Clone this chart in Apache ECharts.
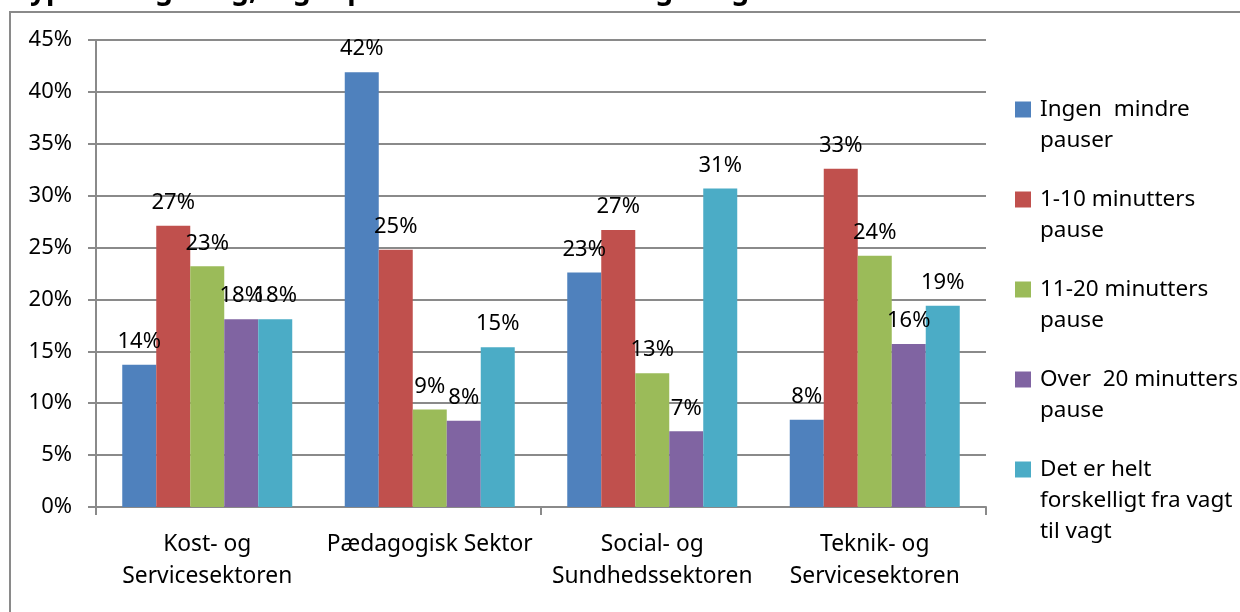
<!DOCTYPE html>
<html>
<head>
<meta charset="utf-8">
<script src="https://cdn.jsdelivr.net/npm/echarts@6/dist/echarts.min.js"></script>
<style>html,body{margin:0;padding:0;background:#fff;}#c{width:1240px;height:612px;}</style>
</head>
<body>
<div id="c"></div>
<script>
const categories = ['Kost- og\nServicesektoren', 'Pædagogisk Sektor', 'Social- og\nSundhedssektoren', 'Teknik- og\nServicesektoren'];
const seriesNames = ['Ingen  mindre\npauser', '1-10 minutters\npause', '11-20 minutters\npause', 'Over  20 minutters\npause', 'Det er helt\nforskelligt fra vagt\ntil vagt'];
const ingenMindre = [13.7, 41.9, 22.6, 8.4];
const min1til10 = [27.1, 24.8, 26.7, 32.6];
const min11til20 = [23.2, 9.4, 12.9, 24.2];
const over20 = [18.1, 8.3, 7.3, 15.7];
const forskelligt = [18.1, 15.4, 30.7, 19.4];
const yTicks = [0, 5, 10, 15, 20, 25, 30, 35, 40, 45];
const titleText = 'r type af vagt/dag, tager pauser i løbet af en vagt/dag';

const colors = ['#4F81BD', '#C0504D', '#9BBB59', '#8064A2', '#4BACC6'];
const values = [ingenMindre, min1til10, min11til20, over20, forskelligt];
const FONT = 'Noto Sans';

const chart = echarts.init(document.getElementById('c'));
const series = seriesNames.map((n, i) => ({
  name: n,
  type: 'bar',
  data: values[i],
  barGap: '0%',
  barCategoryGap: '23.6%',
  itemStyle: { color: colors[i] },
  label: {
    show: true, position: 'top', distance: 12,
    formatter: p => Math.round(p.value) + '%',
    fontFamily: FONT, fontSize: 22, color: '#000', lineHeight: 22
  }
}));

// pad legend labels so that the first text line sits level with the colour square
function legendText(name) {
  const lines = name.split('\n');
  const out = [];
  for (let k = 0; k < lines.length - 1; k++) out.push(' ');
  lines.forEach(l => out.push(l));
  while (out.length < 5) { out.unshift(' '); out.push(' '); }
  return out.join('\n');
}

chart.setOption({
  animation: false,
  color: colors,
  graphic: [
    { type: 'rect', shape: { x: 10, y: 12, width: 1300, height: 700 }, style: { fill: 'none', stroke: '#8a8a8a', lineWidth: 2 }, z: -1 },
    { type: 'text', left: -2, top: -23, style: { text: titleText, font: 'bold 28px "Noto Sans"', fill: '#000' } }
  ],
  grid: { left: 96, right: 254, top: 40, bottom: 105, containLabel: false },
  legend: {
    orient: 'vertical', left: 1010, top: 27, padding: 5,
    itemWidth: 16, itemHeight: 16, itemGap: -65,
    icon: 'rect',
    selectedMode: false,
    formatter: legendText,
    textStyle: { fontFamily: FONT, fontSize: 22.5, color: '#000', lineHeight: 31, padding: [0, 0, 0, 4] },
    data: seriesNames
  },
  xAxis: {
    type: 'category', data: categories,
    axisLine: { lineStyle: { color: '#8a8a8a', width: 2 } },
    axisTick: { show: true, length: 8, interval: (i) => i % 2 === 0, lineStyle: { color: '#8a8a8a', width: 2 } },
    axisLabel: { interval: 0, margin: 22, fontFamily: FONT, fontSize: 22.8, color: '#000', lineHeight: 32 }
  },
  yAxis: {
    type: 'value', min: 0, max: 45, interval: 5,
    axisLine: { show: true, lineStyle: { color: '#8a8a8a', width: 2 } },
    axisTick: { show: true, length: 8, lineStyle: { color: '#8a8a8a', width: 2 } },
    splitLine: { lineStyle: { color: '#8a8a8a', width: 2 } },
    axisLabel: { margin: 24, fontFamily: FONT, fontSize: 22, color: '#000', formatter: v => yTicks.includes(v) ? v + '%' : '' }
  },
  series: series
});
</script>
</body>
</html>
